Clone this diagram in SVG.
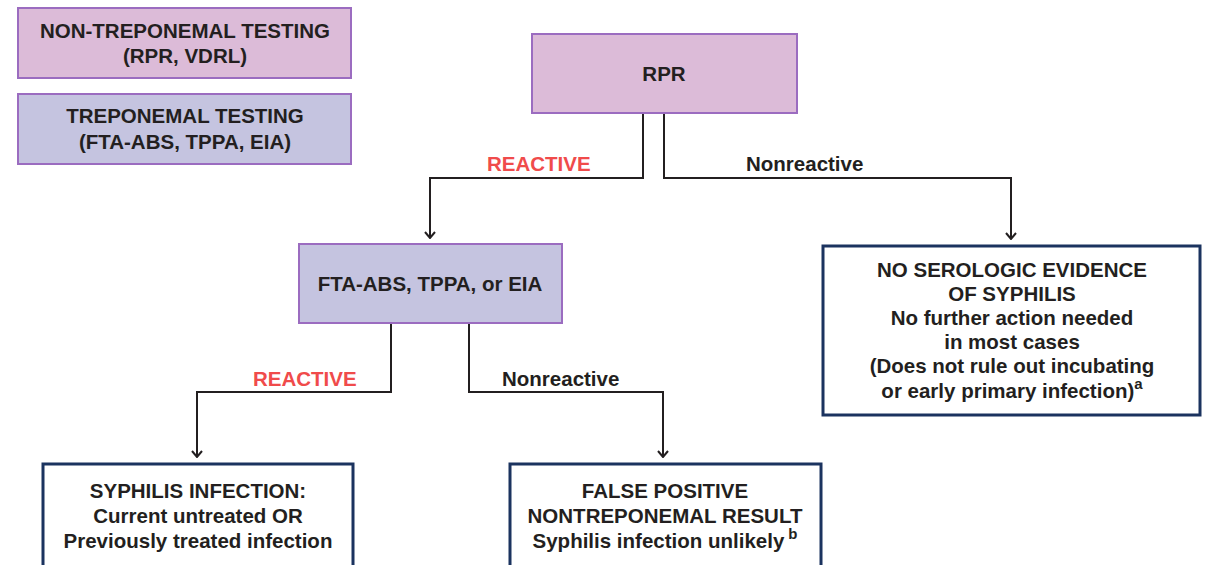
<svg xmlns="http://www.w3.org/2000/svg" width="1209" height="565" viewBox="0 0 1209 565">
<style>
text{font-family:"Liberation Sans",Arial,sans-serif;font-weight:bold;font-size:20.5px;fill:#231f20;text-anchor:middle}
.pink{fill:#dcbbd8;stroke:#9b6cc0;stroke-width:2}
.lav{fill:#c5c4e0;stroke:#9b6cc0;stroke-width:2}
.res{fill:#ffffff;stroke:#1b335f;stroke-width:3}
.red{fill:#f04b4b}
.lbl{text-anchor:start}
.sup{font-size:15px}
.con{fill:none;stroke:#231f20;stroke-width:2}
</style>
<defs>
<marker id="arr" viewBox="0 0 8 12" refX="7" refY="6" markerWidth="8" markerHeight="12" markerUnits="userSpaceOnUse" orient="auto">
<path d="M1,1 L7,6 L1,11" fill="none" stroke="#231f20" stroke-width="2"/>
</marker>
</defs>
<g id="legend-nontrep">
<rect class="pink" x="18" y="8" width="333" height="70"/>
<text x="185" y="38">NON-TREPONEMAL TESTING</text>
<text x="185" y="63">(RPR, VDRL)</text>
</g>
<g id="legend-trep">
<rect class="lav" x="18" y="94" width="333" height="70"/>
<text x="185" y="123">TREPONEMAL TESTING</text>
<text x="185" y="149">(FTA-ABS, TPPA, EIA)</text>
</g>
<g id="connectors">
<path class="con" d="M643,113 V178 H430 V238" marker-end="url(#arr)"/>
<path class="con" d="M664,113 V178 H1011 V239" marker-end="url(#arr)"/>
<path class="con" d="M391,323 V392 H197 V457" marker-end="url(#arr)"/>
<path class="con" d="M469,323 V392 H663 V457" marker-end="url(#arr)"/>
<text class="red lbl" x="487" y="171">REACTIVE</text>
<text class="lbl" x="746" y="171">Nonreactive</text>
<text class="red lbl" x="253" y="386">REACTIVE</text>
<text class="lbl" x="502" y="386">Nonreactive</text>
</g>
<g id="rpr">
<rect class="pink" x="532" y="34" width="265" height="79"/>
<text x="664" y="81">RPR</text>
</g>
<g id="fta">
<rect class="lav" x="299" y="244" width="263" height="79"/>
<text x="430" y="291">FTA-ABS, TPPA, or EIA</text>
</g>
<g id="no-evidence">
<rect class="res" x="823" y="246" width="377" height="169"/>
<text x="1012" y="277">NO SEROLOGIC EVIDENCE</text>
<text x="1012" y="301">OF SYPHILIS</text>
<text x="1012" y="325">No further action needed</text>
<text x="1012" y="349">in most cases</text>
<text x="1012" y="373">(Does not rule out incubating</text>
<text x="1012" y="398">or early primary infection)<tspan class="sup" dy="-9">a</tspan></text>
</g>
<g id="syphilis-infection">
<rect class="res" x="43" y="464" width="310" height="110"/>
<text x="198" y="498">SYPHILIS INFECTION:</text>
<text x="198" y="523">Current untreated OR</text>
<text x="198" y="548">Previously treated infection</text>
</g>
<g id="false-positive">
<rect class="res" x="510" y="464" width="311" height="110"/>
<text x="665" y="498">FALSE POSITIVE</text>
<text x="665" y="523">NONTREPONEMAL RESULT</text>
<text x="665" y="548">Syphilis infection unlikely<tspan class="sup" dx="4" dy="-9">b</tspan></text>
</g>
</svg>
